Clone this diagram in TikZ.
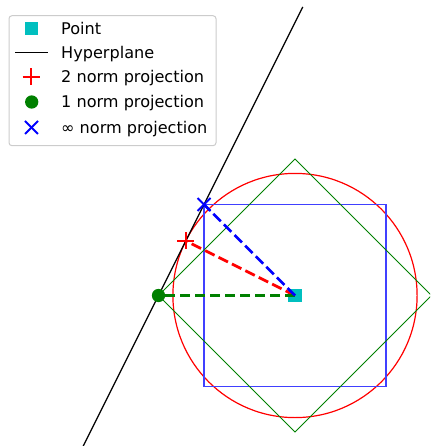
\documentclass[tikz,border=0pt]{standalone}
\usepackage{fontspec}
\setmainfont{DejaVu Sans}
\usetikzlibrary{calc}
\definecolor{mplg}{HTML}{008000}
\definecolor{mplc}{HTML}{00BFBF}
\definecolor{mplr}{HTML}{FF0000}
\definecolor{mplb}{HTML}{0000FF}
\begin{document}
\begin{tikzpicture}[x=1pt,y=-1pt,
  thinshape/.style={line width=1.2pt},
  projline/.style={line width=2.8pt, dash pattern=on 10.5pt off 4.5pt},
  sqmark/.style={fill=mplc, draw=none, minimum size=13.3pt, inner sep=0pt, outer sep=0pt, shape=rectangle},
  dotmark/.style={fill=mplg, draw=none, minimum size=13.3pt, inner sep=0pt, outer sep=0pt, shape=circle},
  markline/.style={line width=2pt},
  legtext/.style={anchor=base west, inner sep=0pt, font=\fontsize{16.1}{18}\selectfont}
]
\useasboundingbox (0,0) rectangle (430,446);
\begin{scope}
\clip (0,0) rectangle (430,446);
% key points
\coordinate (P) at (295,295.5);
\coordinate (q1) at (158.5,295.5);
\coordinate (q2) at (185.8,240.9);
\coordinate (qi) at (204,204.5);
\coordinate (h1) at (302.75,7);
\coordinate (h2) at (83.25,446);
% unit balls
\draw[mplr, thinshape] (P) circle (122.1);
\draw[mplb!75!white, thinshape] ($(P)+(-91,-91)$) rectangle ($(P)+(91,91)$);
\draw[mplg, line width=1pt] ($(P)+(0,-136.5)$) -- ($(P)+(136.5,0)$) -- ($(P)+(0,136.5)$) -- ($(P)+(-136.5,0)$) -- cycle;
% hyperplane
\draw[black, line width=1.2pt] (h1) -- (h2);
% point
\node[sqmark] (pt) at (P) {};
% projections
\draw[mplr, projline] (P) -- (q2);
\draw[mplg, projline] (P) -- (q1);
\draw[mplb, projline] (P) -- (qi);
\node[dotmark] (m1) at (q1) {};
\draw[mplr, markline] ($(q2)+(-8.5,0)$) -- ($(q2)+(8.5,0)$);
\draw[mplr, markline] ($(q2)+(0,-8.5)$) -- ($(q2)+(0,8.5)$);
\draw[mplb, markline] ($(qi)+(-6.5,-6.5)$) -- ($(qi)+(6.5,6.5)$);
\draw[mplb, markline] ($(qi)+(-6.5,6.5)$) -- ($(qi)+(6.5,-6.5)$);
\end{scope}
% legend
\draw[draw=black!20, fill=white, fill opacity=0.8, line width=1pt, rounded corners=3pt] (9,15.7) rectangle (216,145.7);
\node[sqmark] (lp) at (31.7,28.8) {};
\coordinate (lh1) at (15,52.3);
\coordinate (lh2) at (48,52.3);
\draw[black, line width=1.2pt] (lh1) -- (lh2);
\coordinate (l2) at (31.2,76.7);
\draw[mplr, markline] ($(l2)+(-8.5,0)$) -- ($(l2)+(8.5,0)$);
\draw[mplr, markline] ($(l2)+(0,-8.5)$) -- ($(l2)+(0,8.5)$);
\node[dotmark] (l1) at (31.7,102) {};
\coordinate (li) at (31.5,127.5);
\draw[mplb, markline] ($(li)+(-6.5,-6.5)$) -- ($(li)+(6.5,6.5)$);
\draw[mplb, markline] ($(li)+(-6.5,6.5)$) -- ($(li)+(6.5,-6.5)$);
\node[legtext] (t1) at (61,34.6) {Point};
\node[legtext] (t2) at (61,58.1) {Hyperplane};
\node[legtext] (t3) at (61,82.5) {2 norm projection};
\node[legtext] (t4) at (61,107.7) {1 norm projection};
\node[legtext] (t5) at (61,133.3) {∞ norm projection};
\end{tikzpicture}
\end{document}
